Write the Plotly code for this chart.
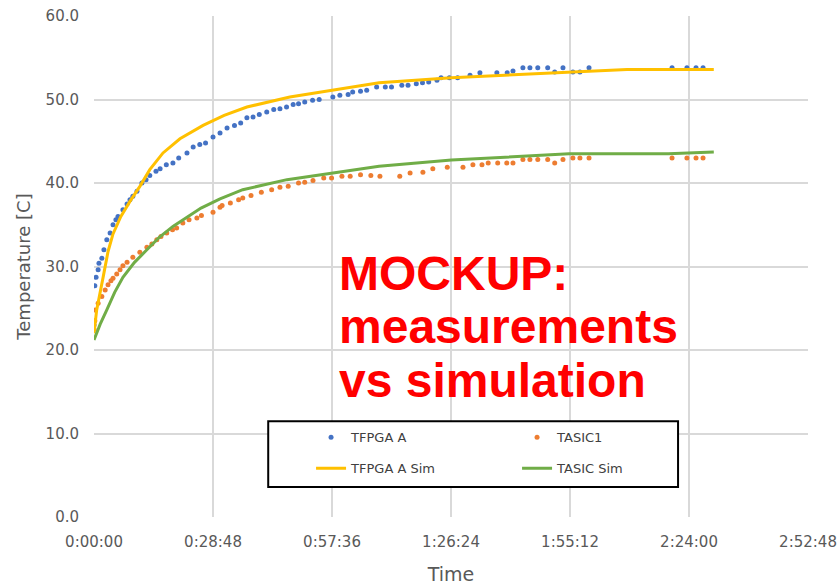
import plotly.graph_objects as go

# Time in minutes, temperature in C
tick_vals = [0, 28.8, 57.6, 86.4, 115.2, 144.0, 172.8]
tick_text = ["0:00:00", "0:28:48", "0:57:36", "1:26:24", "1:55:12", "2:24:00", "2:52:48"]

tfpga_t = [0.0, 0.2, 0.5, 1.0, 1.2, 1.9, 2.4, 3.1, 3.9, 4.6, 5.3, 5.8, 7.0, 8.0, 8.7, 9.4,
           10.4, 11.6, 12.6, 13.5, 15.0, 16.0, 17.5, 19.1, 20.5, 22.5, 24.0, 25.6, 27.0,
           28.8, 30.5, 32.2, 34.0, 35.5, 37.0, 38.5, 40.0, 41.8, 43.5, 45.0, 46.6, 48.2,
           49.5, 51.0, 52.9, 54.5, 57.8, 59.5, 61.5, 62.6, 64.5, 66.0, 68.4, 70.5, 72.0,
           74.5, 76.0, 78.0, 79.5, 81.0, 83.0, 84.0, 86.0, 88.0, 91.0, 93.4, 97.5, 100.0,
           101.4, 103.8, 105.5, 107.4, 109.8, 111.5, 113.5, 115.9, 117.6, 119.8, 139.9,
           143.5, 145.7, 147.4]
tfpga_v = [23.0, 27.7, 28.7, 29.6, 30.4, 31.0, 32.0, 33.2, 34.0, 35.0, 35.6, 36.0, 36.8,
           37.5, 38.0, 38.4, 39.0, 40.0, 40.4, 40.9, 41.4, 41.7, 42.2, 42.4, 43.0, 43.6,
           44.3, 44.6, 44.8, 45.5, 46.0, 46.6, 46.9, 47.2, 47.8, 47.9, 48.2, 48.5, 48.8,
           48.9, 49.1, 49.4, 49.5, 49.7, 49.9, 50.0, 50.3, 50.5, 50.6, 50.9, 51.0, 51.1,
           51.5, 51.5, 51.5, 51.7, 51.7, 51.9, 52.0, 52.1, 52.3, 52.6, 52.6, 52.6, 52.9,
           53.2, 53.2, 53.2, 53.4, 53.8, 53.8, 53.8, 53.8, 53.3, 53.8, 53.3, 53.3, 53.8,
           53.8, 53.8, 53.8, 53.8]

tasic_t = [0.0, 0.2, 0.3, 1.0, 1.9, 2.7, 3.4, 4.1, 4.6, 5.5, 6.3, 7.0, 8.0, 9.4, 11.1,
           12.8, 14.0, 15.2, 16.2, 17.6, 19.0, 20.0, 21.5, 23.0, 24.9, 26.0, 28.8, 30.5,
           31.0, 33.0, 35.0, 36.0, 38.0, 40.5, 43.0, 45.0, 47.0, 49.5, 51.0, 53.0, 55.6,
           57.5, 60.0, 62.0, 64.5, 67.0, 69.2, 74.0, 76.5, 79.6, 82.0, 85.5, 89.3, 91.7,
           93.9, 95.4, 97.7, 99.9, 101.4, 103.8, 105.5, 107.4, 109.8, 111.5, 113.5, 115.9,
           117.6, 119.8, 139.9, 143.5, 145.7, 147.4]
tasic_v = [22.5, 23.5, 24.8, 25.6, 26.4, 27.2, 27.8, 28.3, 28.6, 29.1, 29.6, 30.1, 30.5,
           31.1, 31.7, 32.3, 32.7, 33.2, 33.6, 34.0, 34.4, 34.6, 35.2, 35.6, 35.8, 36.1,
           36.5, 37.1, 37.3, 37.6, 38.0, 38.2, 38.5, 38.9, 39.2, 39.5, 39.6, 40.0, 40.1,
           40.3, 40.6, 40.6, 40.8, 40.8, 41.0, 40.9, 40.8, 40.8, 41.2, 41.3, 41.7, 41.9,
           41.9, 42.2, 42.2, 42.4, 42.4, 42.4, 42.4, 42.8, 42.8, 42.8, 42.8, 42.4, 42.8,
           43.0, 43.0, 43.0, 43.0, 43.0, 43.0, 43.0]

sim_a_t = [0, 0.65, 2.2, 3.4, 4.6, 6.5, 8.7, 11.1, 13.5, 16.7, 20.8, 26.4, 31.5, 37.0, 47.4,
           57.8, 69.0, 86.5, 105.0, 115.0, 129.0, 140.0, 150.0]
sim_a_v = [22.0, 24.8, 28.7, 31.8, 33.9, 36.0, 37.8, 39.6, 41.6, 43.6, 45.3, 46.9, 48.1, 49.1,
           50.3, 51.1, 52.0, 52.6, 53.0, 53.3, 53.6, 53.6, 53.6]

sim_b_t = [0, 1.5, 3.1, 5.0, 7.0, 9.8, 12.8, 15.8, 19.1, 25.9, 30.5, 36.0, 46.7, 57.8, 69.0,
           86.5, 115.0, 139.0, 150.0]
sim_b_v = [21.2, 23.1, 24.8, 26.9, 28.7, 30.5, 32.0, 33.5, 34.8, 37.0, 38.1, 39.2, 40.4,
           41.2, 42.0, 42.75, 43.5, 43.5, 43.7]

GRAY = "#595959"
FONT = "DejaVu Sans"

fig = go.Figure()
fig.add_trace(go.Scatter(x=tfpga_t, y=tfpga_v, mode="markers", name="TFPGA A",
                         marker=dict(color="#4472C4", size=5), legend="legend"))
fig.add_trace(go.Scatter(x=tasic_t, y=tasic_v, mode="markers", name="TASIC1",
                         marker=dict(color="#ED7D31", size=5), legend="legend"))
fig.add_trace(go.Scatter(x=sim_a_t, y=sim_a_v, mode="lines", name="TFPGA A Sim",
                         line=dict(color="#FFC000", width=3), legend="legend2"))
fig.add_trace(go.Scatter(x=sim_b_t, y=sim_b_v, mode="lines", name="TASIC Sim",
                         line=dict(color="#70AD47", width=3), legend="legend2"))

legend_common = dict(orientation="h", xanchor="left", yanchor="middle",
                     bgcolor="rgba(0,0,0,0)", borderwidth=0, entrywidth=161,
                     font=dict(family=FONT, size=13, color="#404040"), itemwidth=30)

fig.update_layout(
    width=838, height=585,
    margin=dict(l=94, r=30, t=16, b=68, autoexpand=False),
    paper_bgcolor="white", plot_bgcolor="white",
    font=dict(family=FONT, color=GRAY),
    showlegend=True,
    legend=dict(x=0.304, y=0.159, **legend_common),
    legend2=dict(x=0.304, y=0.097, **legend_common),
    xaxis=dict(range=[0, 172.8], tickvals=tick_vals, ticktext=tick_text,
               showgrid=True, gridcolor="#D9D9D9", gridwidth=1.5, zeroline=False,
               showline=False, ticks="", ticklabelstandoff=14, automargin=False,
               tickfont=dict(size=15, color=GRAY),
               title=dict(text="Time", font=dict(size=19, color=GRAY), standoff=19)),
    yaxis=dict(range=[0, 60], dtick=10, tickformat=".1f",
               showgrid=True, gridcolor="#D9D9D9", gridwidth=1.5, zeroline=False,
               showline=False, ticks="", ticklabelstandoff=14, automargin=False,
               tickfont=dict(size=15, color=GRAY),
               title=dict(text="Temperature [C]", font=dict(size=18, color=GRAY), standoff=10)),
    shapes=[dict(type="rect", xref="paper", yref="paper", x0=0.244, x1=0.818, y0=0.06, y1=0.191,
                 line=dict(color="black", width=2), fillcolor="white", layer="above")],
)

mock_lines = ["MOCKUP:", "measurements", "vs simulation"]
mock_y = [0.487, 0.381, 0.273]
for txt, yy in zip(mock_lines, mock_y):
    fig.add_annotation(text=txt, x=0.341, y=yy, xref="paper", yref="paper",
                       xanchor="left", yanchor="middle", showarrow=False,
                       font=dict(family="Liberation Sans", size=48, color="#FF0000", weight="bold"))

fig.write_html("out.html")
